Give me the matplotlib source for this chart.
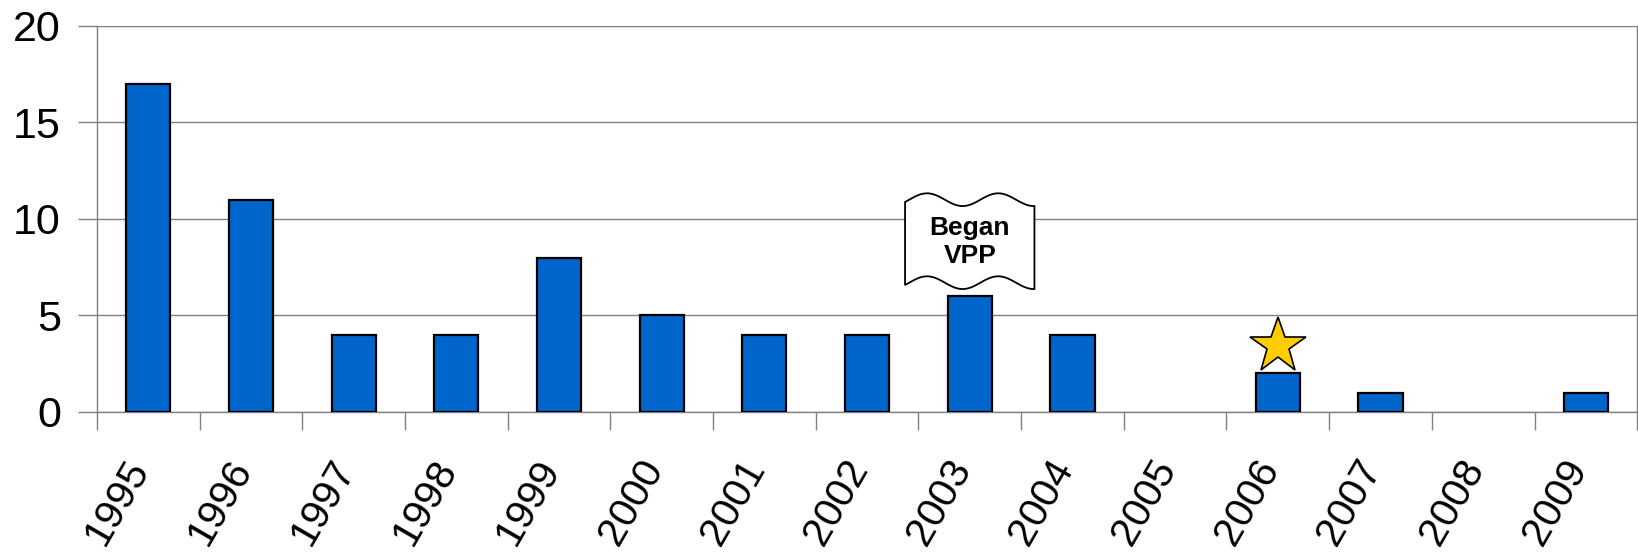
import numpy as np
import matplotlib.pyplot as plt
from matplotlib.patches import Polygon
from matplotlib.ticker import FixedLocator
from matplotlib.transforms import ScaledTranslation

years = ["1995", "1996", "1997", "1998", "1999", "2000", "2001", "2002",
         "2003", "2004", "2005", "2006", "2007", "2008", "2009"]
counts = [17, 11, 4, 4, 8, 5, 4, 4, 6, 4, 0, 2, 1, 0, 1]
y_ticks = [0, 5, 10, 15, 20]

callout_year = "2003"
callout_text = "Began\nVPP"
star_year = "2006"
star_value = 3.4

plt.rcParams["font.family"] = ["Liberation Sans", "DejaVu Sans"]

fig = plt.figure(figsize=(16.38, 5.59), dpi=100)
ax = fig.add_axes([0.0592, 0.263, 0.9403, 0.6905])

x = np.arange(len(years))
# zero-height bars show nothing, so no outline for them
edge_w = [1.6 if c > 0 else 0 for c in counts]
ax.bar(x, counts, width=0.43, color="#0066CC", edgecolor="black",
       linewidth=edge_w, zorder=3)

ax.set_xlim(-0.5, len(years) - 0.5)
ax.set_ylim(0, 20)
ax.set_yticks(y_ticks)
ax.yaxis.grid(True, color="#808080", linewidth=1.0, zorder=0)
ax.tick_params(axis="y", labelsize=31, length=14, width=1.0,
               color="#808080", pad=12)

# year labels at category centres, tick marks on category boundaries
ax.set_xticks(x)
ax.set_xticklabels(years, rotation=60, ha="right", va="center",
                   rotation_mode="anchor", fontsize=29.5)
ax.xaxis.set_minor_locator(FixedLocator(np.arange(-0.5, len(years), 1.0)))
ax.tick_params(axis="x", which="major", length=0, pad=36)
ax.tick_params(axis="x", which="minor", length=13, width=1.0,
               color="#808080")
shift = ScaledTranslation(-8 / 100, 0, fig.dpi_scale_trans)
for lbl in ax.get_xticklabels():
    lbl.set_transform(lbl.get_transform() + shift)

for side in ["left", "bottom", "right"]:
    ax.spines[side].set_color("#808080")
    ax.spines[side].set_linewidth(1.0)
ax.spines["top"].set_visible(False)

# wavy "Began VPP" flag
cx = years.index(callout_year)
half_w, y_lo, y_hi = 0.63, 6.7, 11.0
u = np.linspace(0, 1, 160)
wave = 0.33 * np.sin(2 * np.pi * u / 0.55 - 0.37)
t = cx - half_w + 2 * half_w * u
top = np.column_stack([t, y_hi + wave])
bottom = np.column_stack([t[::-1], y_lo + wave[::-1]])
flag = Polygon(np.vstack([top, bottom]), closed=True, facecolor="white",
               edgecolor="black", linewidth=1.3, zorder=4)
ax.add_patch(flag)
ax.text(cx, (y_lo + y_hi) / 2 - 0.05, callout_text, ha="center",
        va="center", fontsize=19, fontweight="bold", linespacing=1.2,
        zorder=5)

# star above 2006
sx = years.index(star_year)
ax.plot(sx, star_value, marker="*", markersize=42, color="#FFCC00",
        markeredgecolor="black", markeredgewidth=1.2, zorder=5,
        clip_on=False)

fig.savefig("out.png", dpi=100)
